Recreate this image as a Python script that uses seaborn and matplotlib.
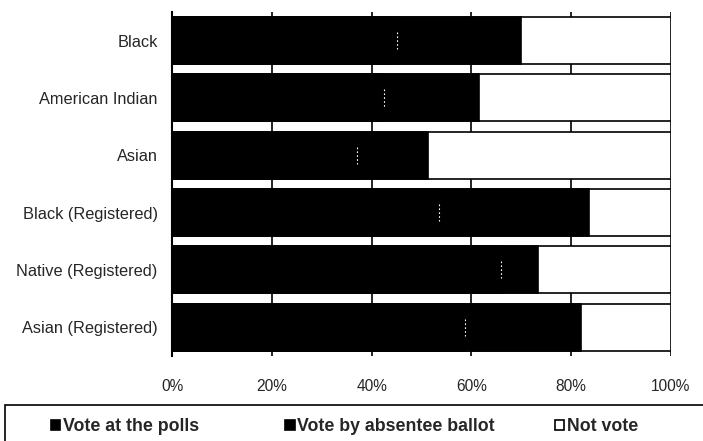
import matplotlib
matplotlib.use('Agg')
import matplotlib.pyplot as plt
import pandas as pd
import seaborn as sns
from matplotlib.patches import Patch

# values (percent of group)
groups = ['Black', 'American Indian', 'Asian', 'Black (Registered)',
          'Native (Registered)', 'Asian (Registered)']
polls = [45.0, 42.5, 37.0, 53.5, 66.0, 58.7]
absentee = [25.0, 19.0, 14.3, 30.1, 7.3, 23.3]
not_vote = [30.0, 38.5, 48.7, 16.4, 26.7, 18.0]
x_ticks = [0, 20, 40, 60, 80, 100]
x_tick_labels = ['0%', '20%', '40%', '60%', '80%', '100%']
legend_labels = ['Vote at the polls', 'Vote by absentee ballot', 'Not vote']
legend_faces = ['black', 'black', 'white']

df = pd.DataFrame({'group': groups, 'polls': polls,
                   'absentee': absentee, 'not_vote': not_vote})
df['cum_absentee'] = df.polls + df.absentee
df['cum_total'] = df.cum_absentee + df.not_vote

sns.set_style('white')
plt.rcParams['font.family'] = ['Liberation Sans', 'DejaVu Sans']

fig = plt.figure(figsize=(7.03, 4.41), dpi=100)
ax = fig.add_axes([0.245, 0.193, 0.709, 0.78])

bar_w = 0.82
sns.barplot(data=df, x='cum_total', y='group', orient='h', color='white',
            edgecolor='black', linewidth=1.2, width=bar_w, ax=ax, zorder=3)
sns.barplot(data=df, x='cum_absentee', y='group', orient='h', color='black',
            edgecolor='black', linewidth=1.2, width=bar_w, ax=ax, zorder=3)
sns.barplot(data=df, x='polls', y='group', orient='h', color='black',
            edgecolor='black', linewidth=1.2, width=bar_w, ax=ax, zorder=3)

# faint dotted boundary between the two black segments
for i, p in enumerate(polls):
    ax.plot([p, p], [i - 0.15, i + 0.15], color='white', lw=0.8,
            ls=(0, (1.5, 2)), zorder=4)

ax.set_xlim(0, 100)
ax.set_ylim(len(groups) - 0.5, -0.5)
ax.set_xticks(x_ticks)
ax.set_xticklabels(x_tick_labels, fontsize=11.2)
ax.set_xlabel('')
ax.set_ylabel('')
ax.set_yticks(range(len(groups)))
ax.set_yticklabels(groups, fontsize=11.8)
ax.tick_params(axis='y', length=0, pad=10.5)
ax.tick_params(axis='x', length=0, pad=16.5)

# category boundary ticks on the left spine
ax.set_yticks([i - 0.5 for i in range(len(groups) + 1)], minor=True)
ax.tick_params(axis='y', which='minor', length=5, width=1.2, color='black',
               direction='out')

for v in x_ticks[1:]:
    ax.axvline(v, color='black', lw=1.2, zorder=1)

for s in ['top', 'bottom', 'right']:
    ax.spines[s].set_visible(False)
ax.spines['left'].set_color('black')
ax.spines['left'].set_linewidth(1.5)

# legend entries placed one by one to follow the reference spacing
legend_x = [0.072, 0.406, 0.789]
for lx, lab, fc in zip(legend_x, legend_labels, legend_faces):
    h = Patch(facecolor=fc, edgecolor='black', linewidth=1.2)
    fig.legend([h], [lab], loc='center left', bbox_to_anchor=(lx, 0.032),
               prop={'weight': 'bold', 'size': 12.8},
               handlelength=0.52, handleheight=0.52, handletextpad=0.15,
               frameon=False, borderaxespad=0, borderpad=0)

# legend frame running off the right and bottom edges, as in the reference
frame = plt.Rectangle((0.007, -0.05), 1.1, 0.132, transform=fig.transFigure,
                      facecolor='none', edgecolor='black', lw=1.2)
fig.patches.append(frame)

fig.savefig('out.png', dpi=100)
